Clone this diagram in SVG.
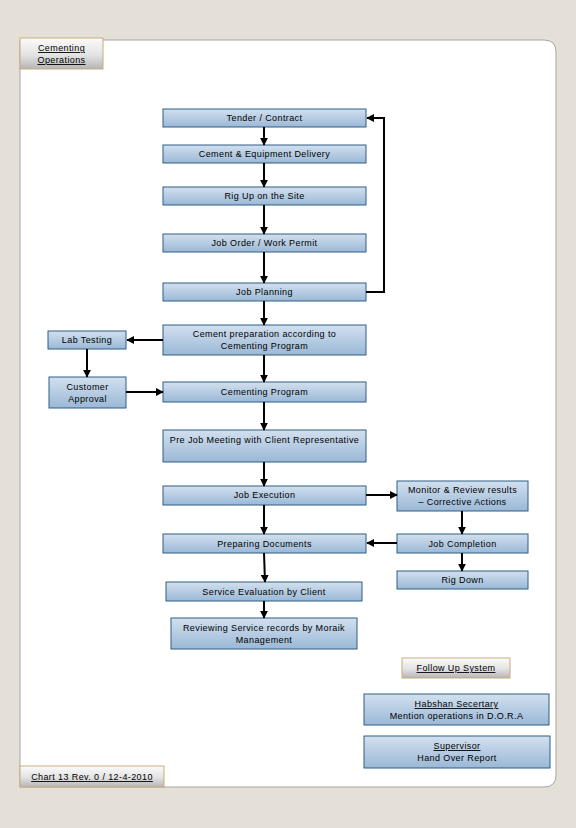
<svg xmlns="http://www.w3.org/2000/svg" width="576" height="828" viewBox="0 0 576 828">
<defs>
<linearGradient id="blue" x1="0" y1="0" x2="0" y2="1">
<stop offset="0" stop-color="#d2e0ef"/>
<stop offset="1" stop-color="#9bb8d6"/>
</linearGradient>
<linearGradient id="beige" x1="0" y1="0" x2="0" y2="1">
<stop offset="0" stop-color="#fbfbfb"/>
<stop offset="0.55" stop-color="#e3e3e3"/>
<stop offset="1" stop-color="#b5b5b5"/>
</linearGradient>
<marker id="ah" viewBox="0 0 10 10" refX="9" refY="5" markerWidth="4" markerHeight="4" orient="auto" markerUnits="strokeWidth">
<path d="M0,0 L10,5 L0,10 z" fill="#000"/>
</marker>
</defs>
<style>
.n{fill:url(#blue);stroke:#2e5f86;stroke-width:1}
.b{fill:url(#beige);stroke:#c9ab7c;stroke-width:1}
text{font-family:"Liberation Sans",Arial,sans-serif;font-size:9px;letter-spacing:0.4px;fill:#000;text-anchor:middle}
.u{text-decoration:underline}
.c path,.c polyline,.c line{fill:none;stroke:#000;stroke-width:2;marker-end:url(#ah)}
</style>
<rect x="0" y="0" width="576" height="828" fill="#e5e0d7"/>
<path d="M20,40 H544 Q556,40 556,52 V775 Q556,787 544,787 H20 Z" fill="#ffffff" stroke="#a9a6a0" stroke-width="1"/>

<g id="cementing-operations"><rect class="b" x="20" y="38" width="83" height="31"/><text class="u" x="61.5" y="51">Cementing</text><text class="u" x="61.5" y="63">Operations</text></g>
<g id="tender"><rect class="n" x="163" y="109" width="203" height="18"/><text x="264.5" y="121">Tender / Contract</text></g>
<g id="delivery"><rect class="n" x="163" y="145" width="203" height="18"/><text x="264.5" y="157">Cement &amp; Equipment Delivery</text></g>
<g id="rigup"><rect class="n" x="163" y="187" width="203" height="18"/><text x="264.5" y="199">Rig Up on the Site</text></g>
<g id="joborder"><rect class="n" x="163" y="234" width="203" height="18"/><text x="264.5" y="246">Job Order / Work Permit</text></g>
<g id="planning"><rect class="n" x="163" y="283" width="203" height="18"/><text x="264.5" y="295">Job Planning</text></g>
<g id="cementprep"><rect class="n" x="163" y="325" width="203" height="30"/><text x="264.5" y="337">Cement preparation according to</text><text x="264.5" y="349">Cementing Program</text></g>
<g id="labtesting"><rect class="n" x="48" y="331" width="78" height="18"/><text x="87" y="343">Lab Testing</text></g>
<g id="approval"><rect class="n" x="49" y="377" width="77" height="31"/><text x="87.5" y="390">Customer</text><text x="87.5" y="402">Approval</text></g>
<g id="program"><rect class="n" x="163" y="382" width="203" height="20"/><text x="264.5" y="395">Cementing Program</text></g>
<g id="prejob"><rect class="n" x="163" y="430" width="203" height="32"/><text x="264.5" y="443">Pre Job Meeting with Client Representative</text></g>
<g id="execution"><rect class="n" x="163" y="486" width="203" height="19"/><text x="264.5" y="498">Job Execution</text></g>
<g id="monitor"><rect class="n" x="397" y="481" width="131" height="30"/><text x="462.5" y="493">Monitor &amp; Review results</text><text x="462.5" y="505">– Corrective Actions</text></g>
<g id="documents"><rect class="n" x="163" y="534" width="203" height="19"/><text x="264.5" y="547">Preparing Documents</text></g>
<g id="completion"><rect class="n" x="397" y="534" width="131" height="19"/><text x="462.5" y="547">Job Completion</text></g>
<g id="rigdown"><rect class="n" x="397" y="571" width="131" height="18"/><text x="462.5" y="583">Rig Down</text></g>
<g id="evaluation"><rect class="n" x="166" y="582" width="196" height="19"/><text x="264" y="595">Service Evaluation by Client</text></g>
<g id="reviewing"><rect class="n" x="171" y="618" width="186" height="31"/><text x="264" y="631">Reviewing Service records by Moraik</text><text x="264" y="643">Management</text></g>
<g id="followup"><rect class="b" x="402" y="658" width="108" height="20"/><text class="u" x="456" y="671">Follow Up System</text></g>
<g id="habshan"><rect class="n" x="364" y="694" width="185" height="31"/><text class="u" x="456.5" y="707">Habshan Secertary</text><text x="456.5" y="719">Mention operations in D.O.R.A</text></g>
<g id="supervisor"><rect class="n" x="364" y="736" width="186" height="32"/><text class="u" x="457" y="749">Supervisor</text><text x="457" y="761">Hand Over Report</text></g>
<g id="chart"><rect class="b" x="20" y="766" width="144" height="21"/><text class="u" x="92" y="780">Chart 13 Rev. 0 / 12-4-2010</text></g>

<g id="connectors" class="c">
<line x1="264" y1="127" x2="264" y2="145"/>
<line x1="264" y1="163" x2="264" y2="187"/>
<line x1="264" y1="205" x2="264" y2="234"/>
<line x1="264" y1="252" x2="264" y2="283"/>
<polyline points="366,292 384,292 384,118 367,118"/>
<line x1="264" y1="301" x2="264" y2="325"/>
<line x1="163" y1="340" x2="127" y2="340"/>
<line x1="87" y1="349" x2="87" y2="377"/>
<polyline points="126,392 150,392 163,392"/>
<line x1="264" y1="355" x2="264" y2="382"/>
<line x1="264" y1="402" x2="264" y2="430"/>
<line x1="264" y1="462" x2="264" y2="486"/>
<line x1="366" y1="495" x2="397" y2="495"/>
<line x1="462" y1="511" x2="462" y2="534"/>
<line x1="397" y1="543" x2="367" y2="543"/>
<line x1="462" y1="553" x2="462" y2="571"/>
<line x1="264" y1="505" x2="264" y2="534"/>
<line x1="264" y1="553" x2="265" y2="582"/>
<line x1="264" y1="601" x2="264" y2="618"/>
</g>
</svg>
